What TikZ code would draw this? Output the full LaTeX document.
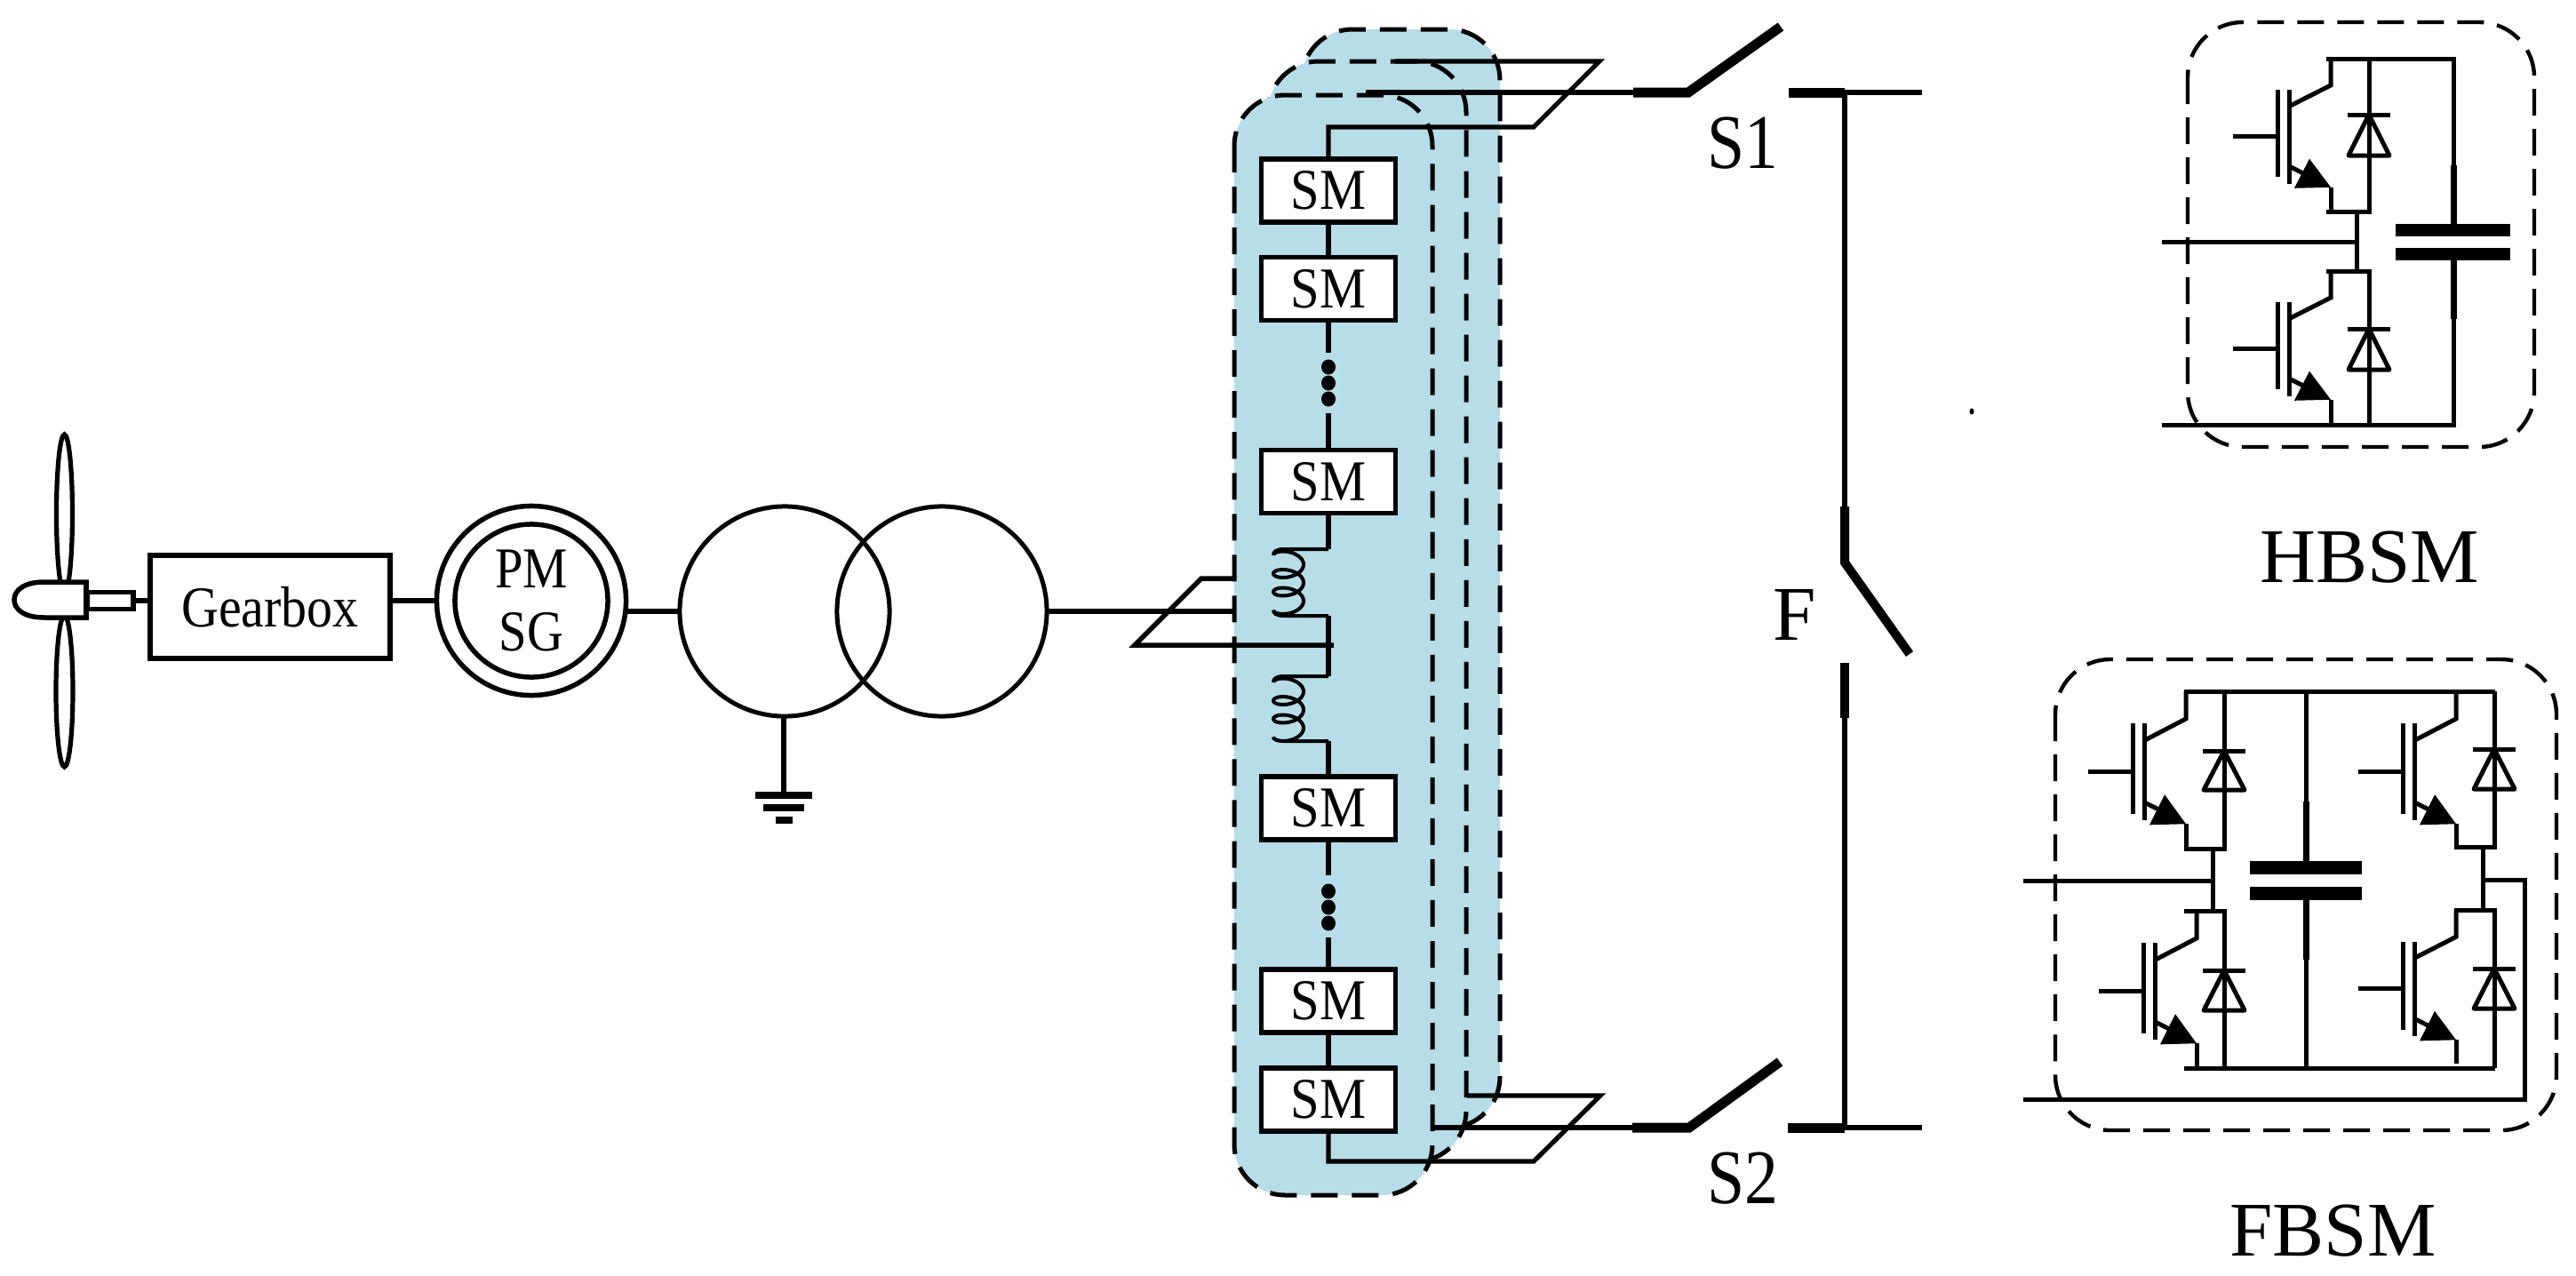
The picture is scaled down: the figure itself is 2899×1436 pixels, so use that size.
\documentclass[tikz,border=0pt]{standalone}
\usepackage{fontspec}
\usepackage{graphicx}
\setmainfont{Liberation Serif}
\definecolor{panelblue}{HTML}{B7DDE8}
\tikzset{
  ln/.style={line width=.052cm,black},
  thin line/.style={line width=.05cm,black},
  blade/.style={line width=.11cm,black},
  panel/.style={fill=panelblue,draw=black,line width=.05cm,dash pattern=on .30cm off .16cm,rounded corners=.57cm},
  smdash/.style={draw=black,line width=.044cm,dash pattern=on .30cm off .15cm,rounded corners=.62cm},
  smbox/.style={draw=black,fill=white,line width=.052cm,inner sep=0pt,outer sep=0pt,minimum width=1.51cm,minimum height=.71cm,font=\fontsize{18.5}{20}\selectfont},
  ring/.style={draw=black,circle,line width=.055cm,inner sep=0pt,outer sep=0pt},
  lbl/.style={inner sep=0pt,outer sep=0pt,font=\fontsize{24.75}{26}\selectfont},
}
\newcommand{\igbtsym}[3]{%
  \begin{scope}[shift={(#1,#2)},yscale=#3]
    \draw[thin line] (0,0) -- (0,29) -- (-45,51);
    \draw[thin line] (-47,34) -- (-47,136);
    \draw[thin line] (-60,34) -- (-60,129);
    \draw[thin line] (-110,85) -- (-60,85);
    \draw[thin line] (-45,118) -- (-20,130);
    \fill[black] (-24,109) -- (-41,141) -- (0,140) -- cycle;
    \draw[thin line] (0,140) -- (0,166);
  \end{scope}}
\newcommand{\diodesym}[3]{%
  \draw[thin line] (#1-24,#2) -- (#1+24,#2);
  \draw[thin line,line join=round] (#1,#2) -- (#1-23,#3) -- (#1+23,#3) -- cycle;}
\newcommand{\coilsym}[2]{%
  \draw[line width=.04cm,black] (1495,#1) -- (1445,#1) .. controls (1436,#1) and (1433,#1+3) .. (1433,#1+7)
    -- plot[domain=0:1080,samples=120,variable=\t] ({1450-17*cos(\t)},{#1+7+20.5*(\t/360)-9*sin(\t)})
    .. controls (1433,#2-3) and (1436,#2) .. (1445,#2) -- (1495,#2);}
\newcommand{\dotsym}[1]{\fill[black] (1495,#1) ellipse [x radius=8,y radius=8.5];}
\begin{document}
\begin{tikzpicture}[x=.01cm,y=-.01cm]
\useasboundingbox (0,0) rectangle (2899,1436);
% panels
\draw[panel] (1465,33) rectangle (1688,1269);
\draw[panel] (1427,69) rectangle (1650,1307);
\draw[panel] (1389,107) rectangle (1612,1345);
% turbine
\draw[ln] (72.5,578) ellipse [x radius=9,y radius=89];
\draw[ln] (72.5,778) ellipse [x radius=9.5,y radius=85];
\draw[line width=.055cm,fill=white] (97,655) -- (50,655) .. controls (26,655) and (16,665) .. (16,675) .. controls (16,685) and (26,695) .. (50,695) -- (97,695) -- cycle;
\node[draw=black,line width=.055cm,fill=white,inner sep=0pt,outer sep=0pt,minimum width=.52cm,minimum height=.19cm] (shaft) at (124,676) {};
\node[draw=black,line width=.055cm,inner sep=0pt,outer sep=0pt,minimum width=2.70cm,minimum height=1.16cm,font=\fontsize{18.5}{20}\selectfont] (gearbox) at (304,683) {\scalebox{.89}[1]{Gearbox}};
\node[ring,minimum size=2.13cm] (pmsgout) at (598,676) {};
\node[ring,minimum size=1.72cm,align=center,font=\fontsize{18.5}{20.2}\selectfont] (pmsgin) at (598,676) {\scalebox{.87}[1]{PM}\\\scalebox{.87}[1]{SG}};
\node[ring,minimum size=2.36cm,line width=.05cm] (tra) at (883,688) {};
\node[ring,minimum size=2.36cm,line width=.05cm] (trb) at (1060,688) {};
\draw[line width=.055cm] (shaft.east) -- (gearbox.west |- shaft.east);
\draw[line width=.065cm] (gearbox.east |- pmsgout.west) -- (pmsgout.west);
\draw[line width=.06cm] (pmsgout.east |- tra.west) -- (tra.west);
% ground
\coordinate (gnd) at (882,891);
\draw[line width=.06cm] (tra.south -| gnd) -- (gnd);
\fill[black] (850,891) rectangle (914,899);
\fill[black] (859,905) rectangle (905,913);
\fill[black] (873,919) rectangle (892,927);
% AC input to arm
\coordinate (acin) at (1388,688);
\draw[ln] (trb.east) -- (acin);
\coordinate (pla) at (1388,651);
\coordinate (plb) at (1352,651);
\coordinate (plc) at (1277,726);
\coordinate (pld) at (1501,726);
\draw[line width=.055cm] (pla) -- (plb) -- (plc) -- (pld);
% SM column
\node[smbox] (sma) at (1495,214.5) {\scalebox{.9}[1]{SM}};
\node[smbox] (smb) at (1495,325) {\scalebox{.9}[1]{SM}};
\node[smbox] (smc) at (1495,542) {\scalebox{.9}[1]{SM}};
\node[smbox] (smd) at (1495,909.5) {\scalebox{.9}[1]{SM}};
\node[smbox] (sme) at (1495,1126.5) {\scalebox{.9}[1]{SM}};
\node[smbox] (smf) at (1495,1237.5) {\scalebox{.9}[1]{SM}};
\coordinate (dta) at (1495,397);
\coordinate (dtb) at (1495,465);
\coordinate (dtc) at (1495,985);
\coordinate (dtd) at (1495,1055);
\draw[ln] (sma.south) -- (smb.north);
\draw[ln] (smb.south) -- (dta);
\draw[ln] (dtb) -- (smc.north);
\draw[ln] (smd.south) -- (dtc);
\draw[ln] (dtd) -- (sme.north);
\draw[ln] (sme.south) -- (smf.north);
\dotsym{413}\dotsym{431}\dotsym{449}
\dotsym{1003}\dotsym{1021}\dotsym{1039}
\coordinate (cua) at (1495,618);
\coordinate (cub) at (1495,761);
\coordinate (cuc) at (1495,834);
\draw[ln] (smc.south) -- (cua);
\coilsym{618}{693}
\draw[ln] (1495,693) -- (cub);
\coilsym{761}{834}
\draw[ln] (cuc) -- (smd.north);
% top parallelogram
\coordinate (tpa) at (1726,143);
\coordinate (tpb) at (1800,69);
\coordinate (tpc) at (1570,69);
\draw[ln] (sma.north) |- (tpa) -- (tpb) -- (tpc);
% bottom parallelogram
\coordinate (bpa) at (1726,1307);
\coordinate (bpb) at (1801,1233);
\coordinate (bpc) at (1651,1233);
\draw[ln] (smf.south) |- (bpa) -- (bpb) -- (bpc);
% S1
\coordinate (saa) at (1537,104);
\coordinate (sab) at (1838,104);
\coordinate (sac) at (1900,104);
\coordinate (sad) at (2004,30);
\coordinate (sae) at (2013,104);
\coordinate (saf) at (2076,104);
\coordinate (sag) at (2163,104);
\draw[ln] (saa) -- (sab);
\draw[blade] (sab) -- (sac) -- (sad);
\draw[blade] (sae) -- (saf);
\draw[ln] (saf) -- (sag);
% S2
\coordinate (sba) at (1613,1269);
\coordinate (sbb) at (1837,1269);
\coordinate (sbc) at (1901,1269);
\coordinate (sbd) at (2003,1195);
\coordinate (sbe) at (2012,1269);
\coordinate (sbf) at (2076,1269);
\coordinate (sbg) at (2163,1269);
\draw[ln] (sba) -- (sbb);
\draw[blade] (sbb) -- (sbc) -- (sbd);
\draw[blade] (sbe) -- (sbf);
\draw[ln] (sbf) -- (sbg);
% F
\coordinate (fa) at (2076,570);
\coordinate (fb) at (2076,633);
\coordinate (fc) at (2149,736);
\coordinate (fd) at (2076,746);
\coordinate (fe) at (2076,808);
\draw[ln] (saf) -- (fa);
\draw[line width=.10cm] (fa) -- (fb) -- (fc);
\draw[line width=.10cm] (fd) -- (fe);
\draw[ln] (fe) -- (sbf);
\fill[black] (2219,463) ellipse [x radius=2.5,y radius=3.5];
% labels
\node[lbl] (ls1) at (1961,161) {\scalebox{.87}[1]{S1}};
\node[lbl] (ls2) at (1961,1326) {\scalebox{.87}[1]{S2}};
\node[lbl] (lf) at (2020,692) {F};
\node[lbl] (lhb) at (2666.5,627) {HBSM};
\node[lbl] (lfb) at (2625.5,1385.5) {FBSM};
% HBSM
\draw[smdash] (2462,25) rectangle (2852,503);
\draw[thin line] (2618,66) -- (2761,66) -- (2761,186);
\draw[line width=.07cm] (2761,186) -- (2761,252);
\fill[black] (2696,252) rectangle (2825,266);
\fill[black] (2696,279) rectangle (2825,293);
\draw[line width=.07cm] (2761,293) -- (2761,359);
\draw[thin line] (2761,359) -- (2761,478) -- (2433,478);
\igbtsym{2623}{66}{1.034}
\igbtsym{2623}{305}{1.034}
\draw[thin line] (2666,66) -- (2666,238) -- (2618,238);
\draw[thin line] (2618,305) -- (2666,305) -- (2666,478);
\diodesym{2666}{129}{175}
\diodesym{2666}{370}{416}
\draw[thin line] (2652,238) -- (2652,305);
\draw[thin line] (2433,272) -- (2652,272);
% FBSM
\draw[smdash] (2313,742) rectangle (2877,1272);
\draw[thin line] (2458,778) -- (2808,778);
\draw[thin line] (2458,1202) -- (2808,1202);
\igbtsym{2460}{778}{1.066}
\igbtsym{2472}{1025}{1.066}
\igbtsym{2764}{778}{1.066}
\igbtsym{2764}{1024}{1.045}
\draw[thin line] (2503,778) -- (2503,955) -- (2458,955);
\draw[thin line] (2458,1025) -- (2503,1025) -- (2503,1202);
\diodesym{2503}{845}{889}
\diodesym{2503}{1092}{1137}
\draw[thin line] (2490,955) -- (2490,1025);
\draw[thin line] (2277,991) -- (2490,991);
\draw[thin line] (2807,778) -- (2807,953) -- (2762,953);
\draw[thin line] (2762,1024) -- (2807,1024) -- (2807,1202);
\diodesym{2807}{843}{888}
\diodesym{2807}{1090}{1135}
\draw[thin line] (2794,953) -- (2794,1024);
\draw[thin line] (2794,990) -- (2841,990) -- (2841,1237) -- (2277,1237);
\draw[thin line] (2595,778) -- (2595,902);
\draw[line width=.07cm] (2595,902) -- (2595,969);
\fill[black] (2532,969) rectangle (2658,984);
\fill[black] (2532,998) rectangle (2658,1013);
\draw[line width=.07cm] (2595,1013) -- (2595,1080);
\draw[thin line] (2595,1080) -- (2595,1202);
\end{tikzpicture}
\end{document}
